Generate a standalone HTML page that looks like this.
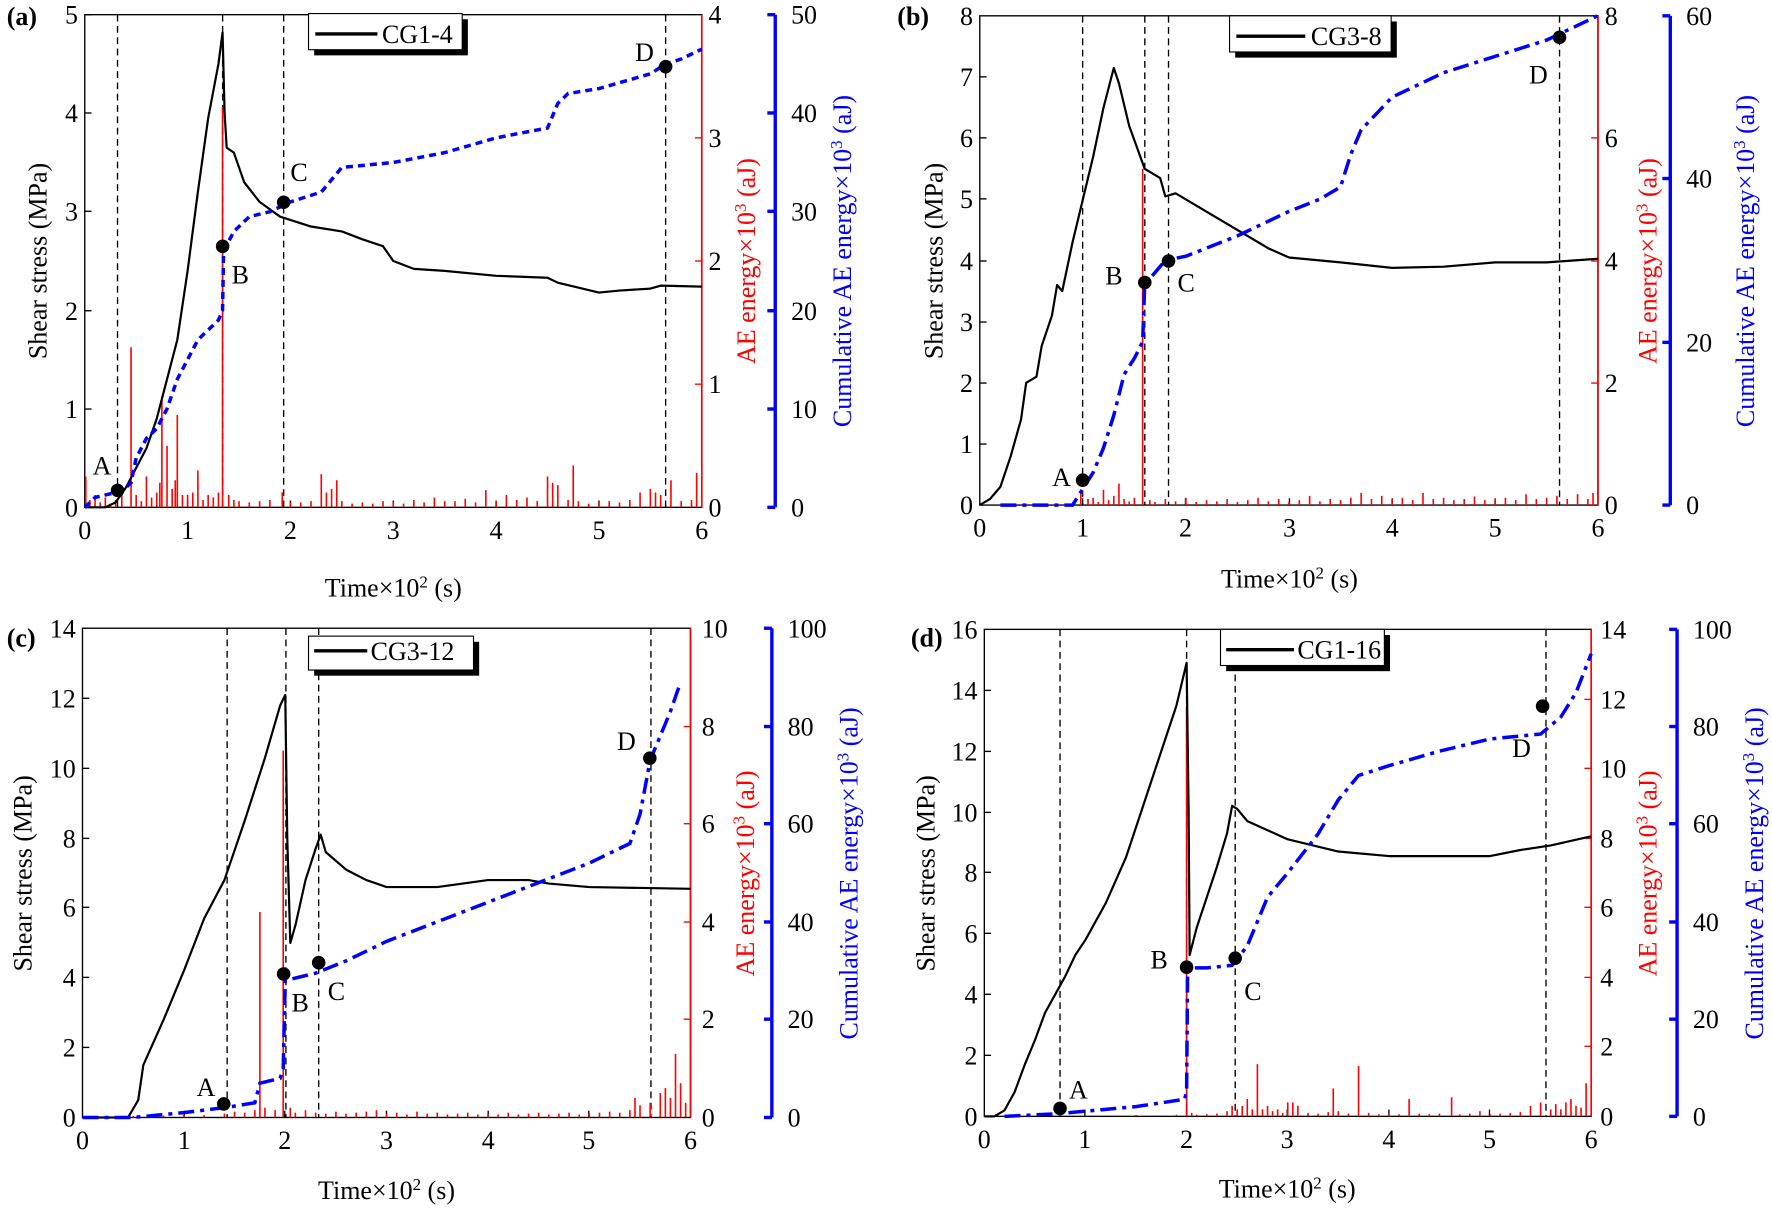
<!DOCTYPE html>
<html><head><meta charset="utf-8"><style>
html,body{margin:0;padding:0;background:#fff}
svg{display:block}
svg text{font-family:"Liberation Serif","DejaVu Serif",serif;font-size:23px}
.k{fill:none;stroke:#000;stroke-width:2.2;vector-effect:non-scaling-stroke;stroke-linejoin:round}
.r{fill:none;stroke:#f00;stroke-width:1.6;vector-effect:non-scaling-stroke}
.b1{fill:none;stroke:#00f;stroke-width:3.5;stroke-dasharray:7 5;vector-effect:non-scaling-stroke}
.b2{fill:none;stroke:#00f;stroke-width:3.5;stroke-dasharray:16 6 4 6;vector-effect:non-scaling-stroke}
.v{stroke:#000;stroke-width:1.2;stroke-dasharray:6 4}
</style></head><body>
<svg width="1772" height="1209" viewBox="0 0 1568 1070" preserveAspectRatio="none" xmlns="http://www.w3.org/2000/svg" font-family="Liberation Serif, DejaVu Serif, serif">

<!-- ===== Panel (a) ===== -->
<g>
<rect x="75" y="13" width="546" height="436" fill="none" stroke="#000" stroke-width="1.2"/>
<line x1="621" y1="13" x2="621" y2="449" stroke="#f00" stroke-width="1.5"/>
<line x1="686" y1="13" x2="686" y2="449" stroke="#00f" stroke-width="3"/>
<g stroke="#000" stroke-width="1.2">
<line x1="75" y1="449" x2="81" y2="449"/><line x1="75" y1="362" x2="81" y2="362"/><line x1="75" y1="275" x2="81" y2="275"/><line x1="75" y1="187" x2="81" y2="187"/><line x1="75" y1="100" x2="81" y2="100"/><line x1="75" y1="13" x2="81" y2="13"/>
<line x1="166" y1="449" x2="166" y2="443"/><line x1="257" y1="449" x2="257" y2="443"/><line x1="348" y1="449" x2="348" y2="443"/><line x1="439" y1="449" x2="439" y2="443"/><line x1="530" y1="449" x2="530" y2="443"/>
</g>
<g stroke="#f00" stroke-width="1.2"><line x1="615" y1="340" x2="621" y2="340"/><line x1="615" y1="231" x2="621" y2="231"/><line x1="615" y1="122" x2="621" y2="122"/></g>
<g stroke="#00f" stroke-width="3"><line x1="679" y1="449" x2="686" y2="449"/><line x1="679" y1="362" x2="686" y2="362"/><line x1="679" y1="275" x2="686" y2="275"/><line x1="679" y1="187" x2="686" y2="187"/><line x1="679" y1="100" x2="686" y2="100"/><line x1="679" y1="13" x2="686" y2="13"/></g>
<g text-anchor="end"><text x="69" y="457">0</text><text x="69" y="370">1</text><text x="69" y="283">2</text><text x="69" y="195">3</text><text x="69" y="108">4</text><text x="69" y="21">5</text></g>
<g text-anchor="middle"><text x="75" y="477">0</text><text x="166" y="477">1</text><text x="257" y="477">2</text><text x="348" y="477">3</text><text x="439" y="477">4</text><text x="530" y="477">5</text><text x="621" y="477">6</text></g>
<g fill="#000"><text x="627" y="457">0</text><text x="627" y="348">1</text><text x="627" y="239">2</text><text x="627" y="130">3</text><text x="627" y="21">4</text></g>
<g><text x="700" y="457">0</text><text x="700" y="370">10</text><text x="700" y="283">20</text><text x="700" y="195">30</text><text x="700" y="108">40</text><text x="700" y="21">50</text></g>
<text x="6" y="22" font-weight="bold">(a)</text>
<text transform="translate(41,231) rotate(-90)" text-anchor="middle">Shear stress (MPa)</text>
<text transform="translate(668,231) rotate(-90)" text-anchor="middle" fill="#f00">AE energy×10<tspan dy="-8" font-size="15">3</tspan><tspan dy="8"> (aJ)</tspan></text>
<text transform="translate(753,231) rotate(-90)" text-anchor="middle" fill="#00f">Cumulative AE energy×10<tspan dy="-8" font-size="15">3</tspan><tspan dy="8"> (aJ)</tspan></text>
<text x="348" y="528" text-anchor="middle">Time×10<tspan dy="-8" font-size="15">2</tspan><tspan dy="8"> (s)</tspan></text>
<g class="v"><line x1="104" y1="13" x2="104" y2="449"/><line x1="197" y1="13" x2="197" y2="449"/><line x1="251" y1="13" x2="251" y2="449"/><line x1="589" y1="13" x2="589" y2="449"/></g>
<g transform="translate(75,449) scale(91,-109)"><path class="r" d="M0.01 0V0.25M0.05 0V0.06M0.1 0V0.1M0.15 0V0.04M0.2 0V0.08M0.25 0V0.03M0.3 0V0.06M0.36 0V0.12M0.45 0V1.3M0.5 0V0.1M0.55 0V0.05M0.6 0V0.25M0.65 0V0.08M0.7 0V0.12M0.73 0V0.2M0.75 0V0.9M0.8 0V0.5M0.85 0V0.15M0.88 0V0.22M0.9 0V0.75M0.95 0V0.1M1.0 0V0.1M1.05 0V0.12M1.1 0V0.3M1.15 0V0.06M1.2 0V0.1M1.25 0V0.08M1.3 0V0.12M1.34 0V3.25M1.4 0V0.1M1.45 0V0.06M1.5 0V0.05M1.6 0V0.04M1.7 0V0.05M1.8 0V0.06M1.92 0V0.12M2.0 0V0.04M2.1 0V0.04M2.2 0V0.05M2.3 0V0.27M2.35 0V0.12M2.4 0V0.15M2.45 0V0.22M2.5 0V0.05M2.6 0V0.03M2.7 0V0.04M2.8 0V0.03M2.9 0V0.05M3.0 0V0.04M3.1 0V0.03M3.2 0V0.06M3.3 0V0.04M3.4 0V0.08M3.5 0V0.05M3.6 0V0.05M3.7 0V0.07M3.8 0V0.04M3.9 0V0.14M4.0 0V0.05M4.1 0V0.1M4.2 0V0.06M4.3 0V0.08M4.4 0V0.05M4.5 0V0.25M4.55 0V0.2M4.6 0V0.18M4.7 0V0.06M4.75 0V0.34M4.8 0V0.05M4.9 0V0.03M5.0 0V0.04M5.1 0V0.05M5.2 0V0.04M5.3 0V0.06M5.4 0V0.12M5.5 0V0.15M5.55 0V0.12M5.6 0V0.1M5.7 0V0.22M5.8 0V0.05M5.9 0V0.06M5.95 0V0.28"/></g>
<g transform="translate(75,449) scale(91,-87.2)"><polyline class="k" points="0,0 0.2,0 0.3,0.05 0.4,0.2 0.5,0.4 0.6,0.6 0.7,0.9 0.8,1.3 0.9,1.7 1.0,2.4 1.1,3.2 1.2,3.95 1.3,4.5 1.34,4.82 1.36,4.0 1.38,3.65 1.45,3.6 1.55,3.3 1.7,3.1 1.9,2.95 2.2,2.85 2.5,2.8 2.7,2.72 2.9,2.65 3.0,2.5 3.2,2.42 3.5,2.4 4,2.35 4.5,2.33 4.6,2.28 5.0,2.18 5.2,2.2 5.5,2.22 5.6,2.25 6,2.24"/></g>
<g transform="translate(75,449) scale(91,-8.72)"><polyline class="b1" points="0,0 0.1,1 0.3,1.5 0.4,2 0.45,2.5 0.5,5 0.6,7 0.7,8 0.8,10 0.9,13 1.1,17 1.3,19 1.34,20 1.35,26 1.45,28 1.6,29.5 1.8,30 2.0,31 2.3,32 2.5,34.5 3.0,35 3.5,36 4,37.5 4.5,38.5 4.6,41 4.7,42 5.0,42.5 5.5,44 5.65,45 5.8,45.5 6,46.5"/></g>
<g fill="#000"><circle cx="104" cy="434" r="6"/><circle cx="197" cy="218" r="6"/><circle cx="251" cy="179" r="6"/><circle cx="589" cy="59" r="6"/></g>
<text x="82" y="420">A</text><text x="205" y="251">B</text><text x="257" y="160">C</text><text x="562" y="54">D</text>
<rect x="278" y="17" width="136" height="32" fill="#000"/>
<rect x="273" y="12" width="136" height="32" fill="#fff" stroke="#000" stroke-width="1"/>
<line x1="279" y1="30" x2="334" y2="30" stroke="#000" stroke-width="3"/>
<text x="338" y="38">CG1-4</text>
</g>

<!-- ===== Panel (b) ===== -->
<g>
<rect x="867" y="14" width="547" height="433" fill="none" stroke="#000" stroke-width="1.2"/>
<line x1="1414" y1="14" x2="1414" y2="447" stroke="#f00" stroke-width="1.5"/>
<line x1="1478" y1="14" x2="1478" y2="447" stroke="#00f" stroke-width="3"/>
<g stroke="#000" stroke-width="1.2">
<line x1="867" y1="393" x2="873" y2="393"/><line x1="867" y1="339" x2="873" y2="339"/><line x1="867" y1="285" x2="873" y2="285"/><line x1="867" y1="231" x2="873" y2="231"/><line x1="867" y1="176" x2="873" y2="176"/><line x1="867" y1="122" x2="873" y2="122"/><line x1="867" y1="68" x2="873" y2="68"/>
<line x1="958" y1="447" x2="958" y2="441"/><line x1="1049" y1="447" x2="1049" y2="441"/><line x1="1141" y1="447" x2="1141" y2="441"/><line x1="1232" y1="447" x2="1232" y2="441"/><line x1="1323" y1="447" x2="1323" y2="441"/>
</g>
<g stroke="#f00" stroke-width="1.2"><line x1="1408" y1="339" x2="1414" y2="339"/><line x1="1408" y1="231" x2="1414" y2="231"/><line x1="1408" y1="122" x2="1414" y2="122"/></g>
<g stroke="#00f" stroke-width="3"><line x1="1471" y1="447" x2="1478" y2="447"/><line x1="1471" y1="303" x2="1478" y2="303"/><line x1="1471" y1="158" x2="1478" y2="158"/><line x1="1471" y1="14" x2="1478" y2="14"/></g>
<g text-anchor="end"><text x="861" y="455">0</text><text x="861" y="401">1</text><text x="861" y="347">2</text><text x="861" y="293">3</text><text x="861" y="239">4</text><text x="861" y="184">5</text><text x="861" y="130">6</text><text x="861" y="76">7</text><text x="861" y="22">8</text></g>
<g text-anchor="middle"><text x="867" y="475">0</text><text x="958" y="475">1</text><text x="1049" y="475">2</text><text x="1141" y="475">3</text><text x="1232" y="475">4</text><text x="1323" y="475">5</text><text x="1414" y="475">6</text></g>
<g><text x="1420" y="455">0</text><text x="1420" y="347">2</text><text x="1420" y="239">4</text><text x="1420" y="130">6</text><text x="1420" y="22">8</text></g>
<g><text x="1492" y="455">0</text><text x="1492" y="311">20</text><text x="1492" y="166">40</text><text x="1492" y="22">60</text></g>
<text x="794" y="22" font-weight="bold">(b)</text>
<text transform="translate(834,231) rotate(-90)" text-anchor="middle">Shear stress (MPa)</text>
<text transform="translate(1466,231) rotate(-90)" text-anchor="middle" fill="#f00">AE energy×10<tspan dy="-8" font-size="15">3</tspan><tspan dy="8"> (aJ)</tspan></text>
<text transform="translate(1552,231) rotate(-90)" text-anchor="middle" fill="#00f">Cumulative AE energy×10<tspan dy="-8" font-size="15">3</tspan><tspan dy="8"> (aJ)</tspan></text>
<text x="1141" y="520" text-anchor="middle">Time×10<tspan dy="-8" font-size="15">2</tspan><tspan dy="8"> (s)</tspan></text>
<g class="v"><line x1="958" y1="14" x2="958" y2="447"/><line x1="1013" y1="14" x2="1013" y2="447"/><line x1="1034" y1="14" x2="1034" y2="447"/><line x1="1380" y1="14" x2="1380" y2="447"/></g>
<g transform="translate(867,447) scale(91.2,-54.1)"><path class="r" d="M0.98 0V0.2M1.05 0V0.1M1.1 0V0.12M1.15 0V0.05M1.2 0V0.25M1.25 0V0.08M1.3 0V0.15M1.35 0V0.35M1.4 0V0.1M1.45 0V0.06M1.5 0V0.12M1.58 0V5.5M1.65 0V0.08M1.7 0V0.05M1.8 0V0.1M1.9 0V0.06M2.0 0V0.12M2.1 0V0.05M2.2 0V0.08M2.3 0V0.06M2.4 0V0.1M2.5 0V0.05M2.6 0V0.08M2.7 0V0.12M2.8 0V0.06M2.9 0V0.1M3.0 0V0.05M3.1 0V0.08M3.2 0V0.15M3.3 0V0.06M3.4 0V0.1M3.5 0V0.08M3.6 0V0.12M3.7 0V0.2M3.8 0V0.1M3.9 0V0.15M4.0 0V0.1M4.1 0V0.12M4.2 0V0.08M4.3 0V0.2M4.4 0V0.1M4.5 0V0.12M4.6 0V0.08M4.7 0V0.1M4.8 0V0.14M4.9 0V0.08M5.0 0V0.1M5.1 0V0.12M5.2 0V0.08M5.3 0V0.18M5.4 0V0.1M5.5 0V0.12M5.6 0V0.15M5.7 0V0.1M5.8 0V0.18M5.9 0V0.1M5.95 0V0.2"/></g>
<g transform="translate(867,447) scale(91.2,-54.1)"><polyline class="k" points="0,0 0.1,0.1 0.2,0.3 0.3,0.8 0.4,1.4 0.45,2 0.55,2.1 0.6,2.6 0.7,3.1 0.75,3.6 0.8,3.5 0.9,4.3 1.0,5.0 1.1,5.7 1.2,6.5 1.3,7.15 1.35,6.9 1.45,6.2 1.6,5.5 1.75,5.35 1.8,5.05 1.9,5.1 2.2,4.8 2.5,4.5 2.8,4.2 3.0,4.05 3.5,3.97 4,3.88 4.5,3.9 5,3.97 5.5,3.97 6,4.03"/></g>
<g transform="translate(867,447) scale(91.2,-7.22)"><polyline class="b2" points="0.2,0 0.9,0 1.0,2 1.1,4 1.2,7 1.3,11 1.4,16 1.5,18 1.58,20 1.6,27 1.8,30 2.0,30.5 2.2,31.5 2.5,33 3.0,36 3.3,37.5 3.5,39 3.6,43 3.7,46 4,50 4.5,53 5,55 5.5,57 6,60"/></g>
<g fill="#000"><circle cx="958" cy="425" r="6"/><circle cx="1013" cy="250" r="6"/><circle cx="1034" cy="231" r="6"/><circle cx="1380" cy="33" r="6"/></g>
<text x="931" y="430">A</text><text x="978" y="252">B</text><text x="1042" y="258">C</text><text x="1353" y="74">D</text>
<rect x="1093" y="19" width="143" height="32" fill="#000"/>
<rect x="1088" y="14" width="143" height="32" fill="#fff" stroke="#000" stroke-width="1"/>
<line x1="1094" y1="32" x2="1155" y2="32" stroke="#000" stroke-width="3"/>
<text x="1160" y="40">CG3-8</text>
</g>

<!-- ===== Panel (c) ===== -->
<g>
<rect x="73" y="556" width="538" height="433" fill="none" stroke="#000" stroke-width="1.2"/>
<line x1="611" y1="556" x2="611" y2="989" stroke="#f00" stroke-width="1.5"/>
<line x1="683" y1="556" x2="683" y2="989" stroke="#00f" stroke-width="3"/>
<g stroke="#000" stroke-width="1.2">
<line x1="73" y1="927" x2="79" y2="927"/><line x1="73" y1="865" x2="79" y2="865"/><line x1="73" y1="803" x2="79" y2="803"/><line x1="73" y1="742" x2="79" y2="742"/><line x1="73" y1="680" x2="79" y2="680"/><line x1="73" y1="618" x2="79" y2="618"/>
<line x1="163" y1="989" x2="163" y2="983"/><line x1="252" y1="989" x2="252" y2="983"/><line x1="342" y1="989" x2="342" y2="983"/><line x1="432" y1="989" x2="432" y2="983"/><line x1="521" y1="989" x2="521" y2="983"/>
</g>
<g stroke="#f00" stroke-width="1.2"><line x1="605" y1="902" x2="611" y2="902"/><line x1="605" y1="816" x2="611" y2="816"/><line x1="605" y1="729" x2="611" y2="729"/><line x1="605" y1="643" x2="611" y2="643"/></g>
<g stroke="#00f" stroke-width="3"><line x1="676" y1="989" x2="683" y2="989"/><line x1="676" y1="902" x2="683" y2="902"/><line x1="676" y1="816" x2="683" y2="816"/><line x1="676" y1="729" x2="683" y2="729"/><line x1="676" y1="643" x2="683" y2="643"/><line x1="676" y1="556" x2="683" y2="556"/></g>
<g text-anchor="end"><text x="67" y="997">0</text><text x="67" y="935">2</text><text x="67" y="873">4</text><text x="67" y="811">6</text><text x="67" y="750">8</text><text x="67" y="688">10</text><text x="67" y="626">12</text><text x="67" y="564">14</text></g>
<g text-anchor="middle"><text x="73" y="1017">0</text><text x="163" y="1017">1</text><text x="252" y="1017">2</text><text x="342" y="1017">3</text><text x="432" y="1017">4</text><text x="521" y="1017">5</text><text x="611" y="1017">6</text></g>
<g><text x="621" y="997">0</text><text x="621" y="910">2</text><text x="621" y="824">4</text><text x="621" y="737">6</text><text x="621" y="651">8</text><text x="621" y="564">10</text></g>
<g><text x="697" y="997">0</text><text x="697" y="910">20</text><text x="697" y="824">40</text><text x="697" y="737">60</text><text x="697" y="651">80</text><text x="697" y="564">100</text></g>
<text x="6" y="572" font-weight="bold">(c)</text>
<text transform="translate(28,773) rotate(-90)" text-anchor="middle">Shear stress (MPa)</text>
<text transform="translate(667,773) rotate(-90)" text-anchor="middle" fill="#f00">AE energy×10<tspan dy="-8" font-size="15">3</tspan><tspan dy="8"> (aJ)</tspan></text>
<text transform="translate(759,773) rotate(-90)" text-anchor="middle" fill="#00f">Cumulative AE energy×10<tspan dy="-8" font-size="15">3</tspan><tspan dy="8"> (aJ)</tspan></text>
<text x="342" y="1061" text-anchor="middle">Time×10<tspan dy="-8" font-size="15">2</tspan><tspan dy="8"> (s)</tspan></text>
<g class="v"><line x1="201" y1="556" x2="201" y2="989"/><line x1="253" y1="556" x2="253" y2="989"/><line x1="282" y1="556" x2="282" y2="989"/><line x1="576" y1="556" x2="576" y2="989"/></g>
<g transform="translate(73,989) scale(89.7,-43.3)"><path class="r" d="M0.5 0V0.03M0.8 0V0.04M1.0 0V0.05M1.2 0V0.05M1.4 0V0.08M1.5 0V0.12M1.6 0V0.1M1.7 0V0.15M1.75 0V4.2M1.8 0V0.2M1.9 0V0.15M1.98 0V7.5M2.05 0V0.2M2.1 0V0.1M2.2 0V0.15M2.3 0V0.1M2.4 0V0.08M2.5 0V0.12M2.6 0V0.08M2.7 0V0.1M2.8 0V0.12M2.9 0V0.15M3.0 0V0.08M3.1 0V0.1M3.2 0V0.06M3.3 0V0.12M3.4 0V0.08M3.5 0V0.1M3.6 0V0.06M3.7 0V0.08M3.8 0V0.1M3.9 0V0.06M4.0 0V0.08M4.1 0V0.06M4.2 0V0.1M4.3 0V0.06M4.4 0V0.08M4.5 0V0.1M4.6 0V0.06M4.7 0V0.08M4.8 0V0.1M4.9 0V0.06M5.0 0V0.08M5.1 0V0.1M5.2 0V0.12M5.3 0V0.1M5.4 0V0.15M5.45 0V0.4M5.5 0V0.25M5.6 0V0.3M5.7 0V0.5M5.75 0V0.6M5.8 0V0.4M5.85 0V1.3M5.9 0V0.7M5.95 0V0.3"/></g>
<g transform="translate(73,989) scale(89.7,-30.9)"><polyline class="k" points="0,0 0.45,0 0.55,0.5 0.6,1.5 0.8,2.8 1.0,4.2 1.2,5.7 1.4,6.8 1.6,8.5 1.8,10.3 1.95,11.8 2.0,12.1 2.02,8 2.05,5.0 2.1,5.5 2.2,6.8 2.3,7.7 2.35,8.1 2.4,7.6 2.6,7.1 2.8,6.8 3.0,6.6 3.5,6.6 4,6.8 4.4,6.8 4.6,6.7 5,6.6 6,6.55"/></g>
<g transform="translate(73,989) scale(89.7,-4.33)"><polyline class="b2" points="0,0 0.5,0 1.0,1 1.4,2 1.7,3 1.75,7 1.95,8 1.98,10 2.0,28 2.1,28.5 2.3,29.5 2.6,32 3,36 3.5,40 4,44 4.5,48 5,52 5.4,56 5.5,62 5.6,73 5.7,78 5.8,83 5.9,89"/></g>
<g fill="#000"><circle cx="198" cy="977" r="6"/><circle cx="251" cy="862" r="6"/><circle cx="282" cy="852" r="6"/><circle cx="575" cy="671" r="6"/></g>
<text x="174" y="970">A</text><text x="258" y="895">B</text><text x="290" y="885">C</text><text x="546" y="664">D</text>
<rect x="278" y="568" width="146" height="30" fill="#000"/>
<rect x="273" y="563" width="146" height="30" fill="#fff" stroke="#000" stroke-width="1"/>
<line x1="278" y1="576" x2="325" y2="576" stroke="#000" stroke-width="3"/>
<text x="328" y="584">CG3-12</text>
</g>

<!-- ===== Panel (d) ===== -->
<g>
<rect x="871" y="557" width="537" height="431" fill="none" stroke="#000" stroke-width="1.2"/>
<line x1="1408" y1="557" x2="1408" y2="988" stroke="#f00" stroke-width="1.5"/>
<line x1="1484" y1="557" x2="1484" y2="988" stroke="#00f" stroke-width="3"/>
<g stroke="#000" stroke-width="1.2">
<line x1="871" y1="934" x2="877" y2="934"/><line x1="871" y1="880" x2="877" y2="880"/><line x1="871" y1="826" x2="877" y2="826"/><line x1="871" y1="772" x2="877" y2="772"/><line x1="871" y1="719" x2="877" y2="719"/><line x1="871" y1="665" x2="877" y2="665"/><line x1="871" y1="611" x2="877" y2="611"/>
<line x1="960" y1="988" x2="960" y2="982"/><line x1="1050" y1="988" x2="1050" y2="982"/><line x1="1139" y1="988" x2="1139" y2="982"/><line x1="1229" y1="988" x2="1229" y2="982"/><line x1="1318" y1="988" x2="1318" y2="982"/>
</g>
<g stroke="#f00" stroke-width="1.2"><line x1="1402" y1="926" x2="1408" y2="926"/><line x1="1402" y1="865" x2="1408" y2="865"/><line x1="1402" y1="803" x2="1408" y2="803"/><line x1="1402" y1="742" x2="1408" y2="742"/><line x1="1402" y1="680" x2="1408" y2="680"/><line x1="1402" y1="619" x2="1408" y2="619"/></g>
<g stroke="#00f" stroke-width="3"><line x1="1477" y1="988" x2="1484" y2="988"/><line x1="1477" y1="902" x2="1484" y2="902"/><line x1="1477" y1="816" x2="1484" y2="816"/><line x1="1477" y1="729" x2="1484" y2="729"/><line x1="1477" y1="643" x2="1484" y2="643"/><line x1="1477" y1="557" x2="1484" y2="557"/></g>
<g text-anchor="end"><text x="865" y="996">0</text><text x="865" y="942">2</text><text x="865" y="888">4</text><text x="865" y="834">6</text><text x="865" y="780">8</text><text x="865" y="727">10</text><text x="865" y="673">12</text><text x="865" y="619">14</text><text x="865" y="565">16</text></g>
<g text-anchor="middle"><text x="871" y="1016">0</text><text x="960" y="1016">1</text><text x="1050" y="1016">2</text><text x="1139" y="1016">3</text><text x="1229" y="1016">4</text><text x="1318" y="1016">5</text><text x="1408" y="1016">6</text></g>
<g><text x="1416" y="996">0</text><text x="1416" y="934">2</text><text x="1416" y="873">4</text><text x="1416" y="811">6</text><text x="1416" y="750">8</text><text x="1416" y="688">10</text><text x="1416" y="627">12</text><text x="1416" y="565">14</text></g>
<g><text x="1498" y="996">0</text><text x="1498" y="910">20</text><text x="1498" y="824">40</text><text x="1498" y="737">60</text><text x="1498" y="651">80</text><text x="1498" y="565">100</text></g>
<text x="806" y="572" font-weight="bold">(d)</text>
<text transform="translate(827,773) rotate(-90)" text-anchor="middle">Shear stress (MPa)</text>
<text transform="translate(1466,773) rotate(-90)" text-anchor="middle" fill="#f00">AE energy×10<tspan dy="-8" font-size="15">3</tspan><tspan dy="8"> (aJ)</tspan></text>
<text transform="translate(1560,773) rotate(-90)" text-anchor="middle" fill="#00f">Cumulative AE energy×10<tspan dy="-8" font-size="15">3</tspan><tspan dy="8"> (aJ)</tspan></text>
<text x="1139" y="1060" text-anchor="middle">Time×10<tspan dy="-8" font-size="15">2</tspan><tspan dy="8"> (s)</tspan></text>
<g class="v"><line x1="938" y1="557" x2="938" y2="988"/><line x1="1050" y1="557" x2="1050" y2="988"/><line x1="1093" y1="557" x2="1093" y2="988"/><line x1="1368" y1="557" x2="1368" y2="988"/></g>
<g transform="translate(871,988) scale(89.5,-30.79)"><path class="r" d="M1.0 0V0.03M1.5 0V0.04M1.9 0V0.05M2.0 0V11.8M2.05 0V0.1M2.1 0V0.05M2.2 0V0.06M2.3 0V0.08M2.4 0V0.15M2.45 0V0.3M2.5 0V0.2M2.55 0V0.3M2.6 0V0.5M2.65 0V0.2M2.7 0V1.5M2.75 0V0.2M2.8 0V0.3M2.85 0V0.15M2.9 0V0.2M2.95 0V0.1M3.0 0V0.4M3.05 0V0.4M3.1 0V0.3M3.2 0V0.1M3.3 0V0.08M3.4 0V0.12M3.45 0V0.8M3.5 0V0.15M3.6 0V0.08M3.7 0V1.45M3.8 0V0.1M3.9 0V0.06M4.0 0V0.08M4.1 0V0.06M4.2 0V0.5M4.3 0V0.08M4.4 0V0.06M4.5 0V0.08M4.62 0V0.55M4.7 0V0.06M4.8 0V0.08M4.9 0V0.15M5.0 0V0.06M5.1 0V0.08M5.2 0V0.1M5.3 0V0.12M5.4 0V0.3M5.5 0V0.4M5.6 0V0.2M5.65 0V0.35M5.7 0V0.2M5.75 0V0.4M5.8 0V0.5M5.85 0V0.3M5.9 0V0.25M5.95 0V0.95"/></g>
<g transform="translate(871,988) scale(89.5,-26.94)"><polyline class="k" points="0,0 0.1,0 0.2,0.2 0.3,0.8 0.4,1.7 0.5,2.5 0.6,3.4 0.7,4.0 0.8,4.6 0.9,5.3 1.0,5.8 1.2,7.0 1.4,8.5 1.5,9.5 1.6,10.5 1.8,12.5 1.9,13.5 2.0,14.9 2.02,10 2.03,5.3 2.1,6.2 2.3,8.2 2.4,9.3 2.45,10.2 2.5,10.1 2.6,9.7 3,9.1 3.5,8.7 4,8.55 4.5,8.55 5,8.55 5.3,8.75 5.6,8.9 6,9.2"/></g>
<g transform="translate(871,988) scale(89.5,-4.31)"><polyline class="b2" points="0.2,0 0.7,0.5 1.5,2 1.98,3.5 2.0,5 2.01,30.5 2.2,30.5 2.45,31 2.6,35 2.8,45 3.0,50 3.3,58 3.5,65 3.7,70 4,72 4.5,75 5,77.5 5.5,78.5 5.7,82 5.85,87 6,95"/></g>
<g fill="#000"><circle cx="938" cy="981" r="6"/><circle cx="1050" cy="856" r="6"/><circle cx="1093" cy="848" r="6"/><circle cx="1365" cy="625" r="6"/></g>
<text x="946" y="972">A</text><text x="1018" y="857">B</text><text x="1101" y="885">C</text><text x="1338" y="670">D</text>
<rect x="1085" y="562" width="145" height="32" fill="#000"/>
<rect x="1080" y="557" width="145" height="32" fill="#fff" stroke="#000" stroke-width="1"/>
<line x1="1085" y1="575" x2="1145" y2="575" stroke="#000" stroke-width="3"/>
<text x="1148" y="583">CG1-16</text>
</g>
</svg>
</body></html>
